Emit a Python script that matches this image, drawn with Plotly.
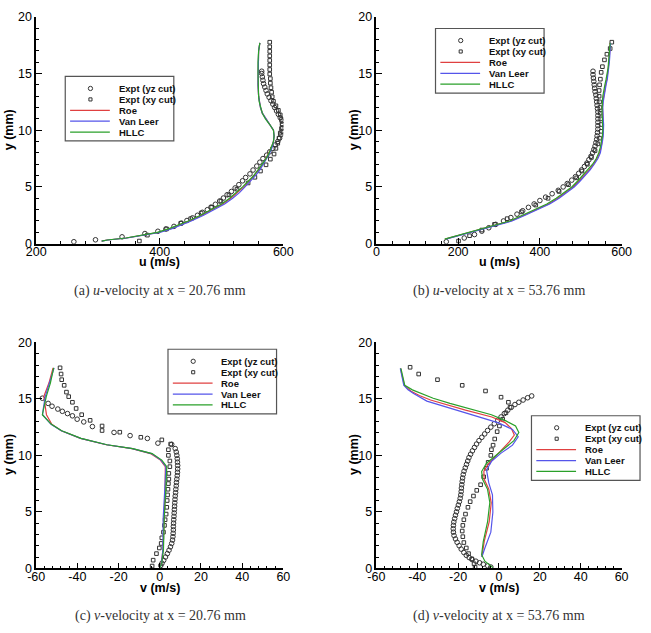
import plotly.graph_objects as go

W, H = 651, 633

# ---------------- (a) u-velocity at x = 20.76 mm ----------------
a_yz_y = [0.17, 0.34, 0.6, 0.89, 1.09, 1.29, 1.52, 1.81, 2.04, 2.27, 2.5, 2.76, 2.99, 3.22, 3.47, 3.76, 4.02, 4.31,
          4.6, 4.91, 5.2, 5.54, 5.83, 6.15, 6.49, 6.84, 7.18, 7.5, 7.8, 8.1, 8.4, 8.7, 9.0, 9.3, 9.6, 9.9, 10.2, 10.5,
          10.8, 11.1, 11.4, 11.7, 12.0, 12.3, 12.6, 12.9, 13.2, 13.5, 13.8, 14.1, 14.4, 14.7, 15.0, 15.2]
a_yz_u = [261, 296, 339, 376, 397, 410, 423, 435, 444, 453, 461, 469, 477, 483, 490, 497, 503, 509,
          516, 522, 528, 534, 539, 546, 551, 557, 562, 567, 573, 578, 583, 587, 591, 594, 596, 598, 599, 599,
          598, 595, 592, 589, 586, 583, 580, 577, 574, 572, 570, 568, 567, 566, 565, 565]
a_xy_y = [0.23, 0.75, 1.3, 1.8, 2.2, 2.7, 3.2, 3.75, 4.3, 4.8, 5.35, 5.85, 6.4, 6.95, 7.45, 7.9, 8.4, 8.85, 9.3,
          9.75, 10.15, 10.55, 10.95, 11.35, 11.75, 12.15, 12.55, 12.95, 13.35, 13.75, 14.15, 14.55, 14.95, 15.35,
          15.75, 16.15, 16.55, 16.95, 17.35, 17.76]
a_xy_u = [367, 380, 411, 434, 450, 467, 484, 499, 512, 525, 543, 554, 563, 572, 579, 585, 588, 591, 593,
          595, 597, 598, 597, 595, 592, 588, 584, 582, 581, 580, 579, 579, 578, 578,
          578, 578, 578, 578, 578, 578]
a_line_y = [0.23, 0.32, 0.5, 0.7, 1.0, 1.3, 1.6, 2.0, 2.5, 3.0, 3.5, 4.0, 4.5, 5.0, 5.5, 6.0, 6.5, 7.0, 7.5, 8.0,
            8.5, 9.0, 9.5, 10.0, 10.5, 11.0, 11.5, 12.0, 12.5, 13.0, 14.0, 15.0, 16.0, 17.0, 17.7]
a_roe_u = [306, 315, 346, 368, 398, 416, 431, 448, 468, 486, 502, 515, 526, 536, 545, 553, 560, 567, 572, 577,
           581, 584, 585, 584, 578, 571, 566, 563, 561, 560, 559, 559, 559, 560, 562]
a_vl_u = [306, 316, 347, 370, 400, 419, 434, 451, 471, 489, 505, 518, 529, 538, 547, 555, 562, 568, 573, 578,
          582, 584, 585, 584, 578, 571, 566, 563, 561, 560, 559, 559, 559, 560, 562]
a_hllc_u = [306, 315, 345, 367, 396, 414, 429, 446, 466, 484, 500, 513, 524, 534, 543, 552, 559, 566, 572, 577,
            581, 584, 585, 584, 578, 571, 566, 563, 561, 560, 559, 559, 559, 560, 562]

# ---------------- (b) u-velocity at x = 53.76 mm ----------------
b_yz_y = [0.17, 0.5, 0.8, 1.1, 1.4, 1.7, 2.0, 2.3, 2.6, 2.9, 3.2, 3.5, 3.8, 4.1, 4.4, 4.7, 5.0, 5.3, 5.6, 5.9,
          6.2, 6.5, 6.8, 7.1, 7.4, 7.7, 8.0, 8.3, 8.6, 8.9, 9.2, 9.5, 9.8, 10.1, 10.4, 10.7, 11.0, 11.3, 11.6,
          11.9, 12.2, 12.5, 12.8, 13.1, 13.4, 13.7, 14.0, 14.3, 14.6, 14.9, 15.2]
b_yz_u = [171, 215, 240, 258, 275, 292, 311, 329, 344, 358, 372, 386, 400, 414, 430, 445, 457, 467, 478, 487,
          495, 502, 509, 515, 520, 525, 529, 532, 535, 537, 539, 540, 541, 542, 542, 542, 542, 542, 542,
          541, 540, 539, 538, 537, 535, 534, 533, 532, 531, 530, 530]
b_xy_y = [0.23, 0.7, 1.2, 1.7, 2.2, 2.8, 3.4, 4.0, 4.6, 5.2, 5.8, 6.4, 7.0, 7.6, 8.2, 8.8, 9.3, 9.9, 10.5, 11.0,
          11.5, 12.0, 12.5, 13.0, 13.5, 14.0, 14.5, 15.1, 15.6, 16.2, 16.7, 17.2, 17.76]
b_xy_u = [201, 228, 258, 289, 320, 355, 390, 420, 447, 470, 490, 503, 516, 526, 535, 542, 546, 550, 550, 549,
          548, 547, 546, 545, 545, 546, 548, 550, 553, 558, 564, 572, 576]
b_line_y = [0.4, 0.9, 1.5, 2.0, 2.5, 3.0, 3.5, 4.0, 4.5, 5.0, 5.5, 6.0, 6.5, 7.0, 7.5, 8.0, 8.5, 9.0, 9.5, 10.0,
            10.5, 11.0, 11.5, 12.0, 12.5, 13.0, 13.5, 14.0, 14.5, 15.0, 15.5, 16.0, 16.5, 17.0, 17.7]
b_roe_u = [168, 220, 284, 329, 361, 393, 421, 444, 464, 481, 495, 508, 521, 531, 540, 546, 550, 552, 554, 555,
           555, 554, 553, 553, 554, 556, 558, 561, 564, 566, 568, 569, 570, 571, 572]
b_vl_u = [170, 222, 286, 332, 364, 396, 424, 447, 467, 484, 498, 511, 523, 533, 542, 548, 551, 553, 555, 556,
          556, 555, 554, 554, 555, 557, 559, 562, 565, 567, 569, 570, 571, 572, 573]
b_hllc_u = [167, 218, 281, 326, 357, 389, 417, 440, 460, 478, 492, 505, 518, 529, 538, 544, 548, 551, 553, 554,
            554, 553, 552, 552, 553, 554, 556, 559, 562, 565, 567, 568, 569, 571, 572]

# ---------------- (c) v-velocity at x = 20.76 mm ----------------
c_yz_y = [15.06, 14.6, 14.35, 14.1, 13.9, 13.7, 13.5, 13.2, 12.96, 12.55, 12.03, 11.75, 11.5, 11.08, 10.97,
          10.6, 10.3, 10.0, 9.7, 9.4, 9.1, 8.8, 8.5, 8.2, 7.9, 7.6, 7.3, 7.0, 6.7, 6.4, 6.1, 5.8, 5.5, 5.2, 4.9,
          4.6, 4.3, 4.0, 3.7, 3.4, 3.1, 2.8, 2.5, 2.2, 1.9, 1.6, 1.3, 1.0, 0.7, 0.45, 0.25]
c_yz_v = [-57, -54.2, -52.3, -49.5, -47.3, -44.8, -42.4, -40.1, -36.9, -32.7, -22.2, -14.4, -6, -0.9, 5.8,
          7.5, 8.0, 8.3, 8.5, 8.6, 8.7, 8.7, 8.6, 8.5, 8.3, 8.1, 8.0, 7.8, 7.7, 7.5, 7.4, 7.3, 7.2, 7.1, 7.0,
          6.9, 6.8, 6.7, 6.6, 6.6, 6.5, 6.4, 6.2, 5.8, 5.2, 4.5, 3.7, 2.8, 1.9, 1.1, 0.5]
c_xy_y = [17.75, 17.2, 16.7, 16.2, 15.6, 15.2, 14.7, 14.15, 13.6, 13.1, 12.6, 12.2, 12.05, 11.6, 11.37, 11.0,
          10.5, 10.0, 9.5, 9.0, 8.4, 7.9, 7.5, 7.0, 6.5, 6.0, 5.4, 4.8, 4.3, 3.8, 3.2, 2.7, 2.2, 1.8, 1.3, 0.72, 0.2]
c_xy_v = [-48.4, -47.9, -47.6, -46.4, -45.3, -44.2, -42.4, -40.6, -37.9, -33.8, -28, -28, -19.4, -9.2, 1, 5.3,
          4.2, 4.2, 4.9, 4.9, 4.4, 4.4, 4.2, 4.0, 3.8, 3.6, 3.4, 3.1, 2.6, 2.3, 1.8, 1.0, 0.7, -0.2, -1.6, -3.2, -3.7]
c_line_y = [17.75, 16.4, 15.2, 14.05, 13.6, 12.75, 12.18, 11.5, 10.94, 10.6, 10.16, 9.58, 9.0, 6.84, 4.53, 1.65,
            0.5, 0.06]
c_roe_v = [-51.8, -53.8, -56.3, -55.5, -55.0, -52.4, -47.8, -38.5, -26.0, -13.5, -4.5, 0.3, 2.7, 2.6, 2.0, 1.6,
           0.8, 0.2]
c_vl_v = [-51.3, -53.4, -55.6, -56.6, -56.9, -52.8, -47.8, -38.4, -25.8, -13.3, -4.0, 0.6, 3.0, 2.4, 1.7, 1.5,
          0.9, 0.2]
c_hllc_v = [-51.5, -53.1, -55.1, -56.7, -57.0, -52.6, -47.6, -38.2, -25.6, -13.1, -3.7, 1.0, 3.4, 2.9, 2.2, 1.8,
            1.0, 0.2]

# ---------------- (d) v-velocity at x = 53.76 mm ----------------
d_yz_y = [15.26, 15.1, 14.9, 14.7, 14.5, 14.25, 14.0, 13.7, 13.4, 13.1, 12.8, 12.5, 12.2, 11.9, 11.6, 11.3, 11.0,
          10.7, 10.4, 10.1, 9.8, 9.5, 9.2, 8.9, 8.6, 8.3, 8.0, 7.7, 7.4, 7.1, 6.8, 6.5, 6.2, 5.9, 5.6, 5.3, 5.0,
          4.7, 4.4, 4.1, 3.8, 3.5, 3.2, 2.9, 2.6, 2.3, 2.0, 1.7, 1.4, 1.15, 0.95, 0.78, 0.63, 0.49, 0.36, 0.22, 0.11]
d_yz_v = [16, 14, 11.8, 9.7, 7.8, 6, 4.3, 2.6, 1.0, -0.6, -2.3, -4, -5.6, -7, -8.4, -9.8, -11,
          -12, -13, -13.9, -14.7, -15.3, -15.9, -16.5, -17.1, -17.5, -17.8, -18, -18.2, -18.4, -18.5, -18.7, -19.0,
          -19.4, -19.9, -20.4, -20.8, -21.3, -21.7, -22.1, -22.3, -22.4, -22.3, -22, -21.3, -20.5, -19.5, -18.5,
          -17.2, -16, -14.6, -13.2, -11.3, -9.5, -7.7, -5.5, -4]
d_xy_y = [17.8, 17.2, 16.7, 16.2, 15.7, 15.15, 14.7, 14.26, 13.77, 13.2, 12.6, 12.1, 11.45, 10.9, 10.5, 10.0, 9.38,
          8.86, 8.1, 7.4, 6.9, 6.4, 5.9, 5.4, 4.8, 4.3, 3.8, 3.3, 2.8, 2.28, 1.8, 1.3, 0.84, 0.4, 0.11]
d_xy_v = [-43.5, -39.3, -30.1, -18, -6.6, 1, 4.6, 5.4, 3.4, 1.8, 0.2, -0.9, -2.1, -2.9, -3.7, -4.0, -5.3,
          -6.1, -7.5, -9, -10.9, -12.5, -14.1, -15.2, -16.4, -17.2, -17.7, -18, -17.7, -17.2, -16, -14.9, -13.3,
          -12.2, -11.7]
d_roe_y = [17.7, 16.2, 15.7, 15.3, 14.9, 14.4, 14.0, 13.4, 12.9, 12.4, 11.8, 11.2, 10.5, 9.8, 9.2, 8.6, 7.9, 7.0,
           5.8, 4.1, 2.4, 1.0]
d_roe_v = [-48.2, -46.3, -43.2, -39, -33.5, -24, -16.4, -3.5, 3.0, 6.0, 7.5, 5.0, 1.2, -2.6, -5.4, -7.4, -7.3,
           -5.0, -3.8, -4.8, -7.2, -8.4]
d_vl_y = [17.7, 16.2, 15.8, 15.5, 14.8, 14.3, 13.77, 13.3, 12.9, 12.3, 11.65, 10.9, 10.2, 9.5, 8.7, 7.56, 6.5,
          4.96, 3.2, 1.8, 1.0]
d_vl_v = [-48.3, -46.6, -44.5, -42, -35.3, -26, -16.4, -7, -0.6, 6.6, 9.4, 6.6, 1.0, -3.5, -6.1, -5.0, -3.2,
          -3.0, -4.0, -6.9, -8.4]
d_hllc_y = [17.7, 16.2, 15.8, 15.5, 15.06, 14.6, 14.2, 13.6, 13.05, 12.6, 12.03, 11.3, 10.6, 9.87, 9.3, 8.57,
            7.85, 6.99, 5.83, 4.1, 2.36, 1.2, 0.63, 0.06]
d_hllc_v = [-48, -46.1, -42.4, -38, -32.2, -24, -16.4, -3.7, 3.4, 8.1, 9.7, 7.3, 2.6, -2.1, -6.1, -8.5, -8,
            -5.6, -4.5, -5.6, -7.7, -8.5, -6.9, -3]

# tick labels
u_ticks_a = [200, 400, 600]
u_ticks_b = [0, 200, 400, 600]
v_ticks = [-60, -40, -20, 0, 20, 40, 60]
v_ticktext = ["-60", "-40", "-20", "0", "20", "40", "60"]
y_ticks = [0, 5, 10, 15, 20]

legend_labels = ["Expt (yz cut)", "Expt (xy cut)", "Roe", "Van Leer", "HLLC"]
captions = ["(a) <i>u</i>-velocity at x = 20.76 mm", "(b) <i>u</i>-velocity at x = 53.76 mm",
            "(c) <i>v</i>-velocity at x = 20.76 mm", "(d) <i>v</i>-velocity at x = 53.76 mm"]
x_titles = ["u (m/s)", "u (m/s)", "v (m/s)", "v (m/s)"]
y_title = "y (mm)"

# ---------------- styling ----------------
RED, BLUE, GREEN = "#e04040", "#5555ea", "#2aa02a"
MK = "#333333"
SANS = "Liberation Sans, Arial, sans-serif"
SERIF = "Liberation Serif, Times New Roman, serif"


def fx(p):
    return p / W


def fy(p):
    return 1 - p / H


panels = [
    dict(xa="x", ya="y", yz=(a_yz_u, a_yz_y), xy=(a_xy_u, a_xy_y),
         lines=[(a_roe_u, a_line_y), (a_vl_u, a_line_y), (a_hllc_u, a_line_y)],
         xdom=(27, 282), ydom=(10, 242), xr=[200, 600], tv=u_ticks_a, tt=[str(v) for v in u_ticks_a],
         mdt=40, leg=(57, 71), xt=(154.5, 261), yt=(-1, 126), cap=(155, 290.5)),
    dict(xa="x2", ya="y2", yz=(b_yz_u, b_yz_y), xy=(b_xy_u, b_xy_y),
         lines=[(b_roe_u, b_line_y), (b_vl_u, b_line_y), (b_hllc_u, b_line_y)],
         xdom=(378, 631), ydom=(10, 242), xr=[0, 600], tv=u_ticks_b, tt=[str(v) for v in u_ticks_b],
         mdt=40, leg=(439, 22), xt=(504.5, 261), yt=(355, 126), cap=(505, 290.5)),
    dict(xa="x3", ya="y3", yz=(c_yz_v, c_yz_y), xy=(c_xy_v, c_xy_y),
         lines=[(c_roe_v, c_line_y), (c_vl_v, c_line_y), (c_hllc_v, c_line_y)],
         xdom=(27, 282), ydom=(343, 574), xr=[-60, 60], tv=v_ticks, tt=v_ticktext,
         mdt=4, leg=(163, 350), xt=(154.5, 594), yt=(-1, 458), cap=(155, 623)),
    dict(xa="x4", ya="y4", yz=(d_yz_v, d_yz_y), xy=(d_xy_v, d_xy_y),
         lines=[(d_roe_v, d_roe_y), (d_vl_v, d_vl_y), (d_hllc_v, d_hllc_y)],
         xdom=(378, 631), ydom=(343, 574), xr=[-60, 60], tv=v_ticks, tt=v_ticktext,
         mdt=4, leg=(538, 418), xt=(504.5, 594), yt=(355, 458), cap=(505, 623)),
]

fig = go.Figure()
shapes, annotations = [], []
line_colors = [RED, BLUE, GREEN]

for i, p in enumerate(panels):
    fig.add_trace(go.Scatter(x=p["yz"][0], y=p["yz"][1], mode="markers", showlegend=False,
                             xaxis=p["xa"], yaxis=p["ya"],
                             marker=dict(symbol="circle-open", size=4.6, color=MK, line=dict(width=1, color=MK))))
    fig.add_trace(go.Scatter(x=p["xy"][0], y=p["xy"][1], mode="markers", showlegend=False,
                             xaxis=p["xa"], yaxis=p["ya"],
                             marker=dict(symbol="square-open", size=3.6, color=MK, line=dict(width=1, color=MK))))
    for (xs, ys), col in zip(p["lines"], line_colors):
        fig.add_trace(go.Scatter(x=xs, y=ys, mode="lines", showlegend=False,
                                 xaxis=p["xa"], yaxis=p["ya"], line=dict(color=col, width=1.2)))

    sfx = "" if i == 0 else str(i + 1)
    axis_common = dict(showline=True, linecolor="black", linewidth=1.5, ticks="inside", ticklen=6, tickwidth=1.2,
                       tickcolor="black", showgrid=False, zeroline=False,
                       tickfont=dict(family=SANS, size=12.5, color="#000"))
    fig.layout["xaxis" + sfx] = dict(
        axis_common, domain=[fx(p["xdom"][0]), fx(p["xdom"][1])], range=p["xr"],
        tickmode="array", tickvals=p["tv"], ticktext=p["tt"], ticklabelstandoff=-4,
        anchor="y" + sfx,
        minor=dict(dtick=p["mdt"], tick0=0, ticks="inside", ticklen=3, tickwidth=1, tickcolor="black"))
    fig.layout["yaxis" + sfx] = dict(
        axis_common, domain=[fy(p["ydom"][1]), fy(p["ydom"][0])], range=[0, 20],
        tickmode="array", tickvals=y_ticks, ticktext=[str(v) for v in y_ticks],
        anchor="x" + sfx,
        minor=dict(dtick=1, tick0=0, ticks="inside", ticklen=3, tickwidth=1, tickcolor="black"))

    # axis titles and caption
    annotations.append(dict(text="<b>%s</b>" % x_titles[i], x=fx(p["xt"][0]), y=fy(p["xt"][1]),
                            xref="paper", yref="paper", showarrow=False, xanchor="center", yanchor="middle",
                            font=dict(family=SANS, size=12.5, color="#000")))
    annotations.append(dict(text="<b>%s</b>" % y_title, x=fx(p["yt"][0]), y=fy(p["yt"][1]), textangle=-90,
                            xref="paper", yref="paper", showarrow=False, xanchor="center", yanchor="middle",
                            font=dict(family=SANS, size=12.5, color="#000")))
    annotations.append(dict(text=captions[i], x=fx(p["cap"][0]), y=fy(p["cap"][1]),
                            xref="paper", yref="paper", showarrow=False, xanchor="center", yanchor="middle",
                            font=dict(family=SERIF, size=14, color="#333")))

    # legend box
    L, T = p["leg"]
    shapes.append(dict(type="rect", xref="paper", yref="paper", x0=fx(L), x1=fx(L + 112), y0=fy(T + 66),
                       y1=fy(T), line=dict(color="#555", width=1.2), fillcolor="white", layer="above"))
    rows = [12.3, 23.5, 34.7, 45.8, 56.9]
    for k, lab in enumerate(legend_labels):
        ry = T + rows[k]
        if k == 0:
            r = 2.2
            shapes.append(dict(type="circle", xref="paper", yref="paper", x0=fx(L + 26 - r), x1=fx(L + 26 + r),
                               y0=fy(ry + r), y1=fy(ry - r), line=dict(color=MK, width=1), layer="above"))
        elif k == 1:
            r = 1.6
            shapes.append(dict(type="rect", xref="paper", yref="paper", x0=fx(L + 26 - r), x1=fx(L + 26 + r),
                               y0=fy(ry + r), y1=fy(ry - r), line=dict(color=MK, width=1), layer="above"))
        else:
            shapes.append(dict(type="line", xref="paper", yref="paper", x0=fx(L + 5), x1=fx(L + 46),
                               y0=fy(ry), y1=fy(ry), line=dict(color=line_colors[k - 2], width=1.2),
                               layer="above"))
        annotations.append(dict(text="<b>%s</b>" % lab, x=fx(L + 53), y=fy(ry), xref="paper", yref="paper",
                                showarrow=False, xanchor="left", yanchor="middle",
                                font=dict(family=SANS, size=9.5, color="#111")))

fig.update_layout(width=W, height=H, margin=dict(l=0, r=0, t=0, b=0), autosize=False,
                  paper_bgcolor="white", plot_bgcolor="white", shapes=shapes, annotations=annotations,
                  showlegend=False)

fig.write_html("out.html")
